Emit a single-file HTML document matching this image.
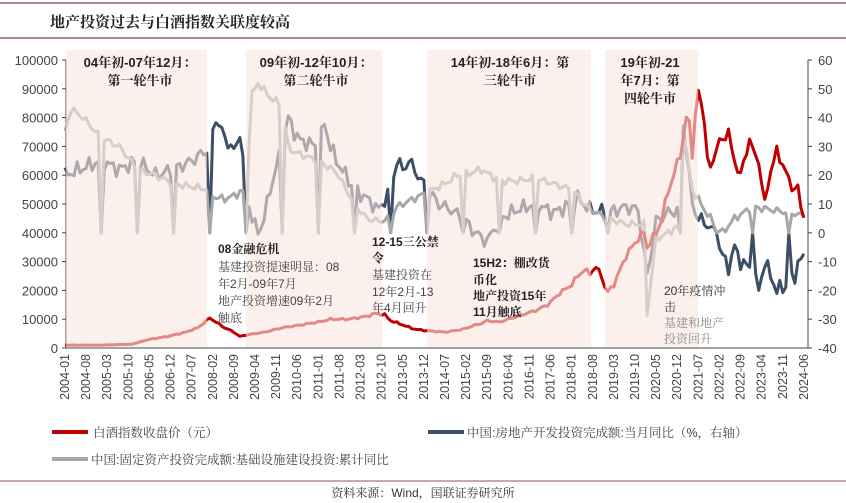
<!DOCTYPE html>
<html><head><meta charset="utf-8">
<style>
body{margin:0;background:#fff;width:846px;height:503px;overflow:hidden;font-family:"Liberation Sans","Noto Serif CJK SC",serif;}
svg{display:block}
.cj{font-family:"Liberation Sans","Noto Serif CJK SC",serif;}
</style></head><body>
<svg id="s" width="846" height="503" xmlns="http://www.w3.org/2000/svg">
<line x1="0" y1="3" x2="846" y2="3" stroke="#b08890" stroke-width="2"/>
<text x="50" y="27" font-size="15" font-weight="bold" class="cj" fill="#222">地产投资过去与白酒指数关联度较高</text>
<line x1="0" y1="38" x2="846" y2="38" stroke="#b08890" stroke-width="2"/>
<g id="plot"></g>
<line x1="0" y1="481" x2="846" y2="481" stroke="#c08890" stroke-width="1.5"/>
<text x="423" y="497" font-size="12" text-anchor="middle" class="cj" fill="#333">资料来源：Wind，国联证券研究所</text>
</svg>
<script>
var NS="http://www.w3.org/2000/svg",g=document.getElementById('plot');
function X(i){return 65+i*3.016}
function YL(v){return 348-v*0.00288}
function YR(v){return 232.8-v*2.88}
function el(t,a,txt){var e=document.createElementNS(NS,t);for(var k in a)e.setAttribute(k,a[k]);if(txt!=null)e.textContent=txt;g.appendChild(e);return e}
function interp(kp,i){var ks=Object.keys(kp).map(Number).sort(function(a,b){return a-b});for(var j=0;j<ks.length-1;j++){if(i>=ks[j]&&i<=ks[j+1]){var t=(i-ks[j])/(ks[j+1]-ks[j]);return kp[ks[j]]*(1-t)+kp[ks[j+1]]*t}}return kp[ks[ks.length-1]]}
function noise(i,s){return Math.sin(i*1.7+s)*0.6+Math.sin(i*3.1+s*2)*0.4}
for(var v=0;v<=10;v++){var y=YL(v*10000);el('text',{x:58,y:y+5,'font-size':13,'text-anchor':'end',fill:'#444'},v==0?'0':(v*10000)+'');el('line',{x1:62,y1:y,x2:66,y2:y,stroke:'#444'})}
for(var r=-40;r<=60;r+=10){var y=YR(r);el('text',{x:818,y:y+5,'font-size':13,fill:'#444'},r+'');el('line',{x1:808,y1:y,x2:812,y2:y,stroke:'#444'})}
el('line',{x1:66,y1:60,x2:66,y2:348,stroke:'#444'});
el('line',{x1:808,y1:60,x2:808,y2:348,stroke:'#444'});
el('line',{x1:66,y1:348,x2:808,y2:348,stroke:'#444'});
for(var i=0;i<=245;i+=7){var yy=2004+Math.floor(i/12),m=i%12+1;var x=X(i);el('text',{x:0,y:0,'font-size':12.5,fill:'#444','text-anchor':'end',transform:'translate('+(x+4)+',354) rotate(-90)'},yy+'-'+(m<10?'0':'')+m)}
var red={0:1,12:1,22:1.3,28:3,34:4,40:5.5,44:7,47:9.5,48:10.5,50:9,53:7,56:5.5,58:4,60:4.5,66:5.5,72:7,78:8,84:9,88:10,94:10,100:11,103:12,106:11.5,108:9.5,112:8,116:6.5,120:6,126:5.5,132:6.5,136:8,138:8.5,140:9.5,144:9,150:11,156:13,160:15,164:19,168:22,170:25,172:27,174:26,176:28,178:25,179:21,180:19.5,182:22,186:32,190:38,192:40,193:35,196:40,198:45,200:55,202:60,204:68,205:73,206:79,207:78,208:68,209:80,210:88,211:85,212:80,213:65,214:62,216:70,218:72,220:76,221:68,222:65,224:60,226:68,227:74,228:68,230:65,232:50,234:62,236:68,238:64,240:58,242:55,243:56,244:48,245:47};
var gray={0:35,2:43,6:40,12:33,18:30,24:22,30:20,36:17,42:16,48:15,50:12,54:12,58:14,60:15,62:48,64:52,68:47,72:44,74:30,76:28,84:25,90:21,96:10,100:5,104:4,108:5,110:9,114:11,120:14,126:17,130:20,132:20,138:22,144:18,150:18,156:19,162:17,168:15,174:8,180:5,186:3,192:3,193:-28,196:-2,200:0,204:3,205:35,208:15,212:8,216:2,218:0,222:5,228:9,234:8,240:7,245:6};
var dark={0:20,12:25,18:22,24:25,30:20,36:22,42:25,46:28,48:30,50:40,52:35,56:28,58:35,60:15,62:5,64:0,66:5,68:15,72:30,74:40,76:35,78:32,84:30,86:38,88:30,90:25,96:15,100:12,104:8,108:15,110:25,112:22,114:25,120:15,124:10,128:8,132:5,136:0,140:-3,144:5,150:8,156:10,162:7,168:10,170:12,174:8,180:7,186:9,190:8,193:-15,196:4,200:7,204:8,205:38,208:10,210:5,214:2,216:-2,218:-8,220:-12,222:-5,224:-10,228:-13,230:-20,232:-10,234:-15,236:-20,238:-19,240:-18,242:-15,243:-10,245:-9};
function series(kp,yf,amp,seed,jan){var p=[];for(var i=0;i<=245;i++){var v=interp(kp,i)+noise(i,seed)*amp;if(jan&&i%12==0&&i!=0&&i!=192)v=0;p.push(X(i).toFixed(1)+','+yf(v).toFixed(1))}return p.join(' ')}
el('polyline',{points:series(dark,YR,3,1,true),fill:'none',stroke:'#3d4f66','stroke-width':3,'stroke-linejoin':'round'});
el('polyline',{points:series(gray,YR,1.5,2,true),fill:'none',stroke:'#a8a8a8','stroke-width':3,'stroke-linejoin':'round'});
var rp=[];for(var i=0;i<=245;i++){var v=interp(red,i);v+=noise(i,3)*v*0.04;rp.push(X(i).toFixed(1)+','+YL(v*1000).toFixed(1))}
el('polyline',{points:rp.join(' '),fill:'none',stroke:'#c00000','stroke-width':3,'stroke-linejoin':'round'});
[[66,207],[246,382],[427,591],[605,698]].forEach(function(r){el('rect',{x:r[0],y:50,width:r[1]-r[0],height:297,fill:'#f8e6df','fill-opacity':0.6})});
function T(x,y,s,opt){opt=opt||{};el('text',{x:x,y:y,'font-size':opt.fs||12,'font-weight':opt.b?'bold':'normal',fill:opt.c||'#222','text-anchor':opt.a||'start','class':'cj'},s)}
T(140,67,'04年初-07年12月：',{b:1,a:'middle',fs:13});T(140,85,'第一轮牛市',{b:1,a:'middle',fs:13});
T(316,67,'09年初-12年10月：',{b:1,a:'middle',fs:13});T(316,85,'第二轮牛市',{b:1,a:'middle',fs:13});
T(510,67,'14年初-18年6月：第',{b:1,a:'middle',fs:13});T(510,85,'三轮牛市',{b:1,a:'middle',fs:13});
T(650,67,'19年初-21',{b:1,a:'middle',fs:13});T(650,85,'年7月：第',{b:1,a:'middle',fs:13});T(650,103,'四轮牛市',{b:1,a:'middle',fs:13});
T(218,253,'08金融危机',{b:1});T(218,271,'基建投资提速明显：08',{c:'#444'});T(218,288,'年2月-09年7月',{c:'#444'});T(218,305,'地产投资增速09年2月',{c:'#444'});T(218,322,'触底',{c:'#444'});
T(372,246,'12-15三公禁',{b:1});T(372,262,'令',{b:1});T(372,279,'基建投资在',{c:'#444'});T(372,296,'12年2月-13',{c:'#444'});T(372,312,'年4月回升',{c:'#444'});
T(473,267,'15H2：棚改货',{b:1});T(473,284,'币化',{b:1});T(473,300,'地产投资15年',{b:1});T(473,316,'11月触底',{b:1});
T(664,295,'20年疫情冲',{c:'#333'});T(664,311,'击',{c:'#333'});T(664,327,'基建和地产',{c:'#888'});T(664,343,'投资回升',{c:'#888'});
el('line',{x1:52,y1:432,x2:88,y2:432,stroke:'#c00000','stroke-width':4});T(93,437,'白酒指数收盘价（元）',{c:'#444',fs:12.5});
el('line',{x1:428,y1:432,x2:464,y2:432,stroke:'#3d4f66','stroke-width':4});T(467,437,'中国:房地产开发投资完成额:当月同比（%，右轴）',{c:'#444',fs:12.5});
el('line',{x1:52,y1:459,x2:88,y2:459,stroke:'#a8a8a8','stroke-width':4});T(91,464,'中国:固定资产投资完成额:基础设施建设投资:累计同比',{c:'#444',fs:12.5});
</script>
</body></html>
